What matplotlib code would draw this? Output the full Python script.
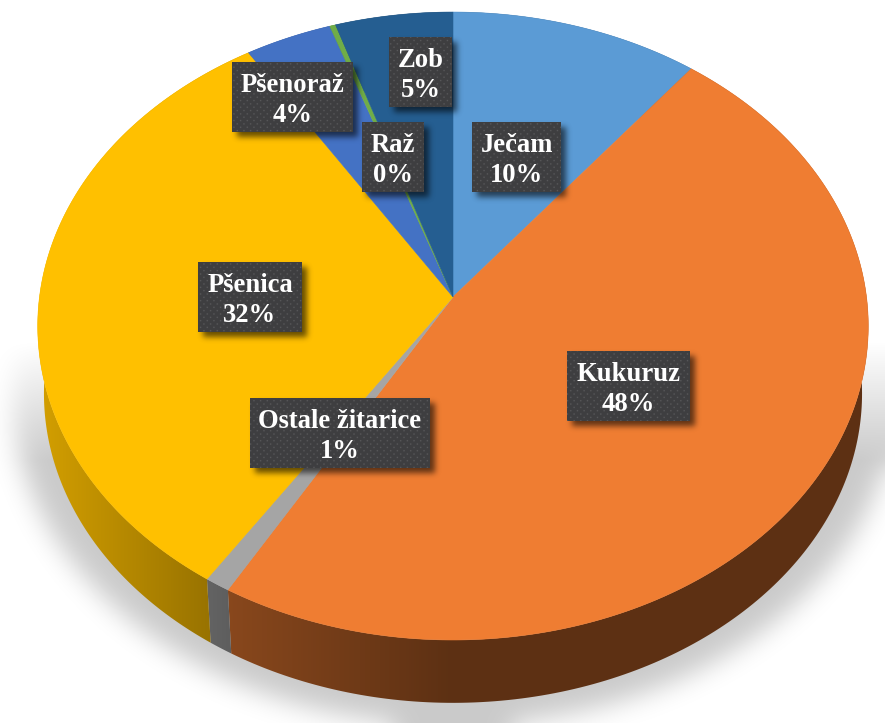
import numpy as np
import matplotlib
matplotlib.use("Agg")
import matplotlib.pyplot as plt
from matplotlib.patches import Polygon
from matplotlib.colors import to_rgb

categories = ["Ječam", "Kukuruz", "Ostale žitarice", "Pšenica", "Pšenoraž", "Raž", "Zob"]
values = [10.6, 47.75, 0.9, 31.8, 3.7, 0.25, 5.0]
percent_labels = ["10%", "48%", "1%", "32%", "4%", "0%", "5%"]
colors = ["#5B9BD5", "#EF7D32", "#A5A5A5", "#FFC000", "#4472C4", "#70AD47", "#255E91"]
# label boxes: x0, x1, y0, y1 in image pixels
label_boxes = [(472, 561, 122, 192), (567, 690, 351, 421), (250, 430, 398, 468),
               (198, 302, 262, 332), (232, 353, 62, 132), (362, 424, 122, 192),
               (389, 452, 37, 107)]

W, H = 885, 723
CX, CY, A, B, K = 453.0, 297.0, 413.5, 311.3, 0.0924
DEPTH, SCALE = 68.0, 0.985

fig = plt.figure(figsize=(W / 100, H / 100), dpi=100, facecolor="white")
ax = fig.add_axes([0, 0, 1, 1])
ax.set_xlim(0, W)
ax.set_ylim(H, 0)
ax.axis("off")


def project(theta, r=1.0, lower=False):
    u, v = r * np.sin(theta), -r * np.cos(theta)
    w = 1 - K * v
    x, y = A * u / w, B * v / w
    if lower:
        return CX + SCALE * x, CY + DEPTH + SCALE * y
    return CX + x, CY + y


def blur(img, sigma):
    n = int(3 * sigma)
    g = np.exp(-0.5 * (np.arange(-n, n + 1) / sigma) ** 2)
    g /= g.sum()
    pad = np.pad(img, n, mode="edge")
    pad = np.apply_along_axis(lambda m: np.convolve(m, g, mode="same"), 0, pad)
    pad = np.apply_along_axis(lambda m: np.convolve(m, g, mode="same"), 1, pad)
    return pad[n:-n, n:-n]


yy, xx = np.mgrid[0:H, 0:W]

# soft shadow under the pie
mask = (((xx - 453) / 441.0) ** 2 + ((yy - 395) / 330.0) ** 2 < 1).astype(float)
soft = blur(mask, 13)
fade = np.clip((yy - 340) / 120.0, 0, 1)
shadow = np.zeros((H, W, 4))
shadow[..., 3] = 0.21 * soft * fade
ax.imshow(shadow, extent=(0, W, H, 0), zorder=1, aspect="auto", interpolation="bilinear")

# slice angles
fractions = np.array(values) / np.sum(values)
edges = np.concatenate([[0], np.cumsum(fractions)]) * 2 * np.pi

# side wall, shaded along x
shade = np.interp(xx[0], [45, 230, 450, 870], [0.82, 0.57, 0.39, 0.39])
for i, col in enumerate(colors):
    t = np.linspace(edges[i], edges[i + 1], 200)
    xt, yt = project(t)
    xb, yb = project(t, lower=True)
    pts = np.column_stack([np.r_[xt, xb[::-1]], np.r_[yt, yb[::-1]]])
    wall = Polygon(pts, closed=True, fc="none", ec="none", zorder=2)
    ax.add_patch(wall)
    rgb = np.array(to_rgb(col))
    strip = (shade[None, :, None] * rgb[None, None, :]).clip(0, 1)
    im = ax.imshow(strip, extent=(0, W, H, 0), zorder=2, aspect="auto", interpolation="bilinear")
    im.set_clip_path(wall)

# top face
for i, col in enumerate(colors):
    t = np.linspace(edges[i], edges[i + 1], 300)
    x, y = project(t)
    pts = np.column_stack([np.r_[CX, x], np.r_[CY, y]])
    ax.add_patch(Polygon(pts, closed=True, fc=col, ec=col, lw=0.4, zorder=3))

# label shadows
lab_mask = np.zeros((H, W))
box_mask = np.zeros((H, W))
for x0, x1, y0, y1 in label_boxes:
    lab_mask[y0 + 5:y1 + 5, x0 + 5:x1 + 5] = 1
    box_mask[y0:y1, x0:x1] = 1
lab_sh = np.zeros((H, W, 4))
lab_sh[..., 3] = 0.6 * blur(lab_mask, 3)
ax.imshow(lab_sh, extent=(0, W, H, 0), zorder=4, aspect="auto", interpolation="bilinear")

# label boxes with a fine dotted fill
period = 6.67
dots = np.clip(np.cos(2 * np.pi * xx / period) * np.cos(2 * np.pi * yy / period), 0, 1) ** 3
box_img = np.zeros((H, W, 4))
box_img[..., 0] = (62 + 26 * dots) / 255
box_img[..., 1] = (62 + 26 * dots) / 255
box_img[..., 2] = (64 + 26 * dots) / 255
box_img[..., 3] = box_mask
ax.imshow(box_img, extent=(0, W, H, 0), zorder=5, aspect="auto", interpolation="nearest")

# label text
for name, pct, (x0, x1, y0, y1) in zip(categories, percent_labels, label_boxes):
    cx = (x0 + x1) / 2
    ax.text(cx, (y0 + y1) / 2 + 3.5, f"{name}\n{pct}", ha="center", va="center", color="white",
            family="Liberation Serif", weight="bold", fontsize=19.2, linespacing=1.27, zorder=6)

ax.set_xlim(0, W)
ax.set_ylim(H, 0)
fig.savefig("out.png", dpi=100, facecolor="white")
